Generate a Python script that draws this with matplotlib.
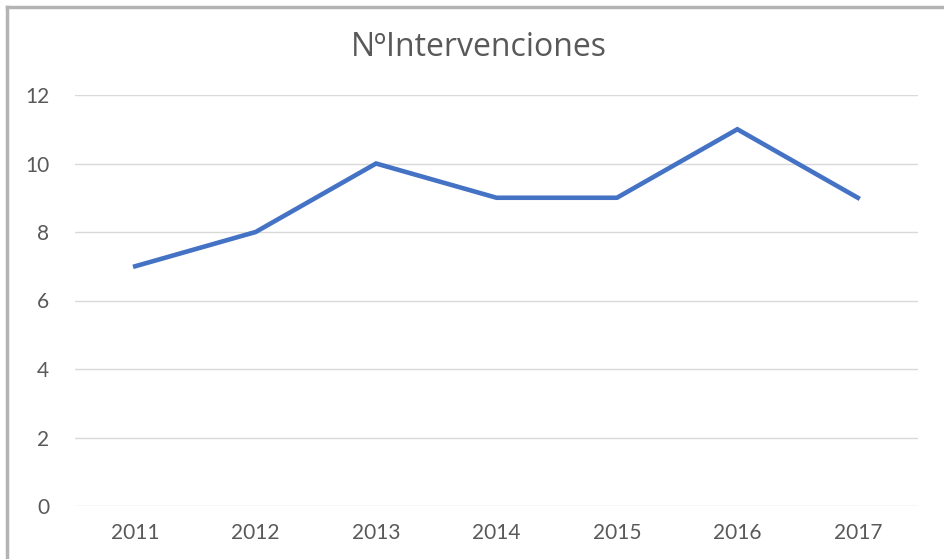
import matplotlib.pyplot as plt
from matplotlib.lines import Line2D

years = ['2011', '2012', '2013', '2014', '2015', '2016', '2017']
intervenciones = [7, 8, 10, 9, 9, 11, 9]
yticks = [0, 2, 4, 6, 8, 10, 12]

plt.rcParams['font.family'] = ['Lato', 'DejaVu Sans']

fig = plt.figure(figsize=(9.45, 5.59), dpi=100)
ax = fig.add_axes([75 / 945, 1 - 506 / 559, (918 - 75) / 945, (506 - 95) / 559])

x = range(len(years))
ax.plot(x, intervenciones, color='#4472C4', lw=3.3, solid_joinstyle='miter', zorder=3)

ax.set_xlim(-0.5, len(years) - 0.5)
ax.set_ylim(0, 12)
ax.set_xticks(list(x))
ax.set_xticklabels(years)
ax.set_yticks(yticks)
ax.grid(axis='y', color='#d9d9d9', lw=1)
ax.tick_params(length=0, labelsize=15, colors='#595959')
ax.tick_params(axis='x', pad=12)
ax.tick_params(axis='y', pad=18.5)
for s in ax.spines.values():
    s.set_visible(False)

fig.text(479 / 945, 1 - 47 / 559, 'NºIntervenciones', ha='center', va='center',
         fontsize=23, color='#595959', family=['Open Sans', 'DejaVu Sans'])

# chart frame (only left and top edges visible in crop)
fig.add_artist(Line2D([7 / 945, 7 / 945], [0, 1 - 7 / 559], transform=fig.transFigure,
                      color='#b4b4b4', lw=2.5))
fig.add_artist(Line2D([7 / 945, 1], [1 - 7 / 559, 1 - 7 / 559], transform=fig.transFigure,
                      color='#b4b4b4', lw=2.5))

fig.savefig('out.png', dpi=100)
